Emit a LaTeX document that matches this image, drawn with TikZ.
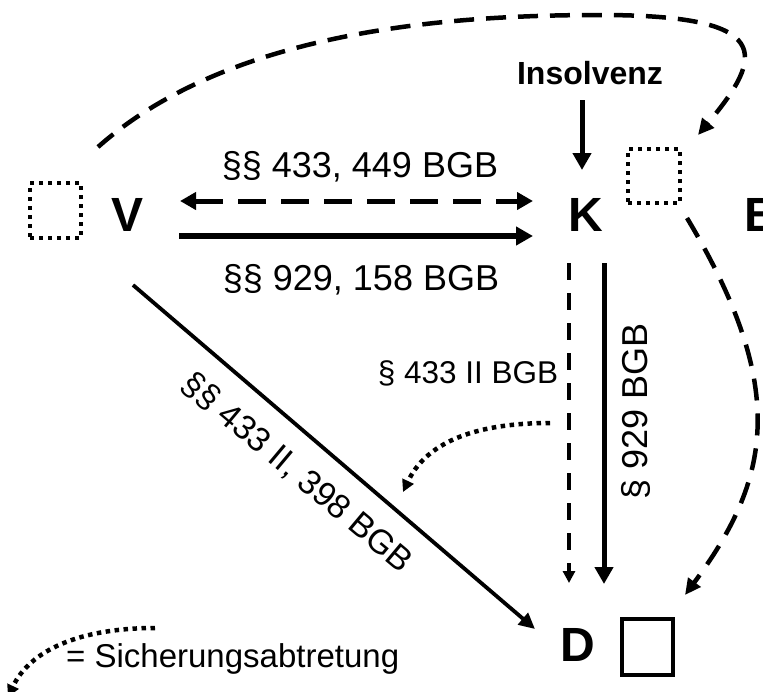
\documentclass[tikz,border=0pt]{standalone}
\usepackage{fontspec}
\setmainfont{Liberation Sans}
\usetikzlibrary{arrows.meta}
\begin{document}
\begin{tikzpicture}[x=1pt,y=-1pt,
  party/.style={font=\bfseries\fontsize{48}{50}\selectfont, inner sep=0pt},
  lbl/.style={font=\fontsize{36}{40}\selectfont, inner sep=0pt},
  dotbox/.style={draw, line width=4pt, dash pattern=on 4pt off 5pt, inner sep=0pt},
  solbox/.style={draw, line width=4pt, inner sep=0pt},
  bigtip/.style={-{Triangle[length=17pt,width=18pt]}},
  midtip/.style={-{Triangle[length=16pt,width=15pt]}},
  smalltip/.style={-{Triangle[length=12pt,width=12pt]}},
  dottip/.style={-{Triangle[length=12pt,width=12pt]}},
  dotline/.style={line width=4.5pt, dash pattern=on 4.5pt off 4.5pt},
]
\useasboundingbox (0,0) rectangle (763,691);

% parties
\node[party] (V) at (128,215) {V};
\node[party] (K) at (586,215) {K};
\node[party] (D) at (578,645) {D};
\node[party, anchor=west] (B) at (744,215) {B};
\node[font=\bfseries\fontsize{32}{36}\selectfont, inner sep=0pt] (ins) at (590,73) {Insolvenz};

% boxes
\node[dotbox, minimum width=51pt, minimum height=55pt] (bV) at (55.5,210.5) {};
\node[dotbox, minimum width=52pt, minimum height=54pt] (bK) at (654,176) {};
\node[solbox, minimum width=51pt, minimum height=56pt] (bD) at (647.5,647) {};

% connector end points
\coordinate (dA) at (180,201); \coordinate (dB) at (533,201);
\coordinate (sA) at (179,236); \coordinate (sB) at (533,236);
\coordinate (iA) at (582,100); \coordinate (iB) at (582,170);
\coordinate (vdA) at (569,263); \coordinate (vdB) at (569,583);
\coordinate (vsA) at (604,263); \coordinate (vsB) at (604,584);
\coordinate (gA) at (133,285); \coordinate (gB) at (535,629);
\coordinate (cA) at (550,423); \coordinate (cB) at (403,492);
\coordinate (tA) at (98,147); \coordinate (tM) at (600,15); \coordinate (tB) at (698,135);
\coordinate (rA) at (687,218); \coordinate (rB) at (685,595);
\coordinate (eA) at (155,628); \coordinate (eB) at (8,697);

% V <-> K
\draw[line width=5pt, dash pattern=on 28pt off 15pt,
  {Triangle[length=16pt,width=17pt]}-{Triangle[length=16pt,width=17pt]}] (dA) -- (dB);
\draw[line width=5.5pt, bigtip] (sA) -- (sB);
\node[lbl, anchor=base] (l1) at (360,177) {§§ 433, 449 BGB};
\node[lbl, anchor=base] (l2) at (361,290) {§§ 929, 158 BGB};

% Insolvenz
\draw[line width=5pt, bigtip] (iA) -- (iB);

% K -> D
\draw[line width=4pt, dash pattern=on 17pt off 13pt, smalltip] (vdA) -- (vdB);
\draw[line width=5pt, bigtip] (vsA) -- (vsB);
\node[font=\fontsize{31.5}{36}\selectfont, inner sep=0pt, anchor=base] (l3) at (468,383) {§ 433 II BGB};
\node[font=\fontsize{36}{40}\selectfont, inner sep=0pt, rotate=90, anchor=base] (l4) at (647,411) {§ 929 BGB};

% V -> D
\draw[line width=3.8pt, midtip] (gA) -- (gB);
\node[font=\fontsize{34}{38}\selectfont, inner sep=0pt, rotate=-40] (l5) at (297,473) {§§ 433 II, 398 BGB};

% Sicherungsabtretung arrow
\draw[dotline, dottip] (cA) .. controls (470,423) and (425,445) .. (cB);

% top dashed curve
\draw[line width=4.5pt, dash pattern=on 20pt off 12pt, midtip]
  (tA) .. controls (230,30) and (450,15) .. (tM) .. controls (775,15) and (765,55) .. (tB);

% right dashed curve
\draw[line width=4.5pt, dash pattern=on 22pt off 13pt, midtip]
  (rA) .. controls (790,390) and (770,480) .. (rB);

% legend
\draw[dotline, dottip] (eA) .. controls (80,628) and (30,650) .. (eB);
\node[font=\fontsize{33}{38}\selectfont, inner sep=0pt, anchor=base west] (l6) at (66,667) {= Sicherungsabtretung};
\end{tikzpicture}
\end{document}
